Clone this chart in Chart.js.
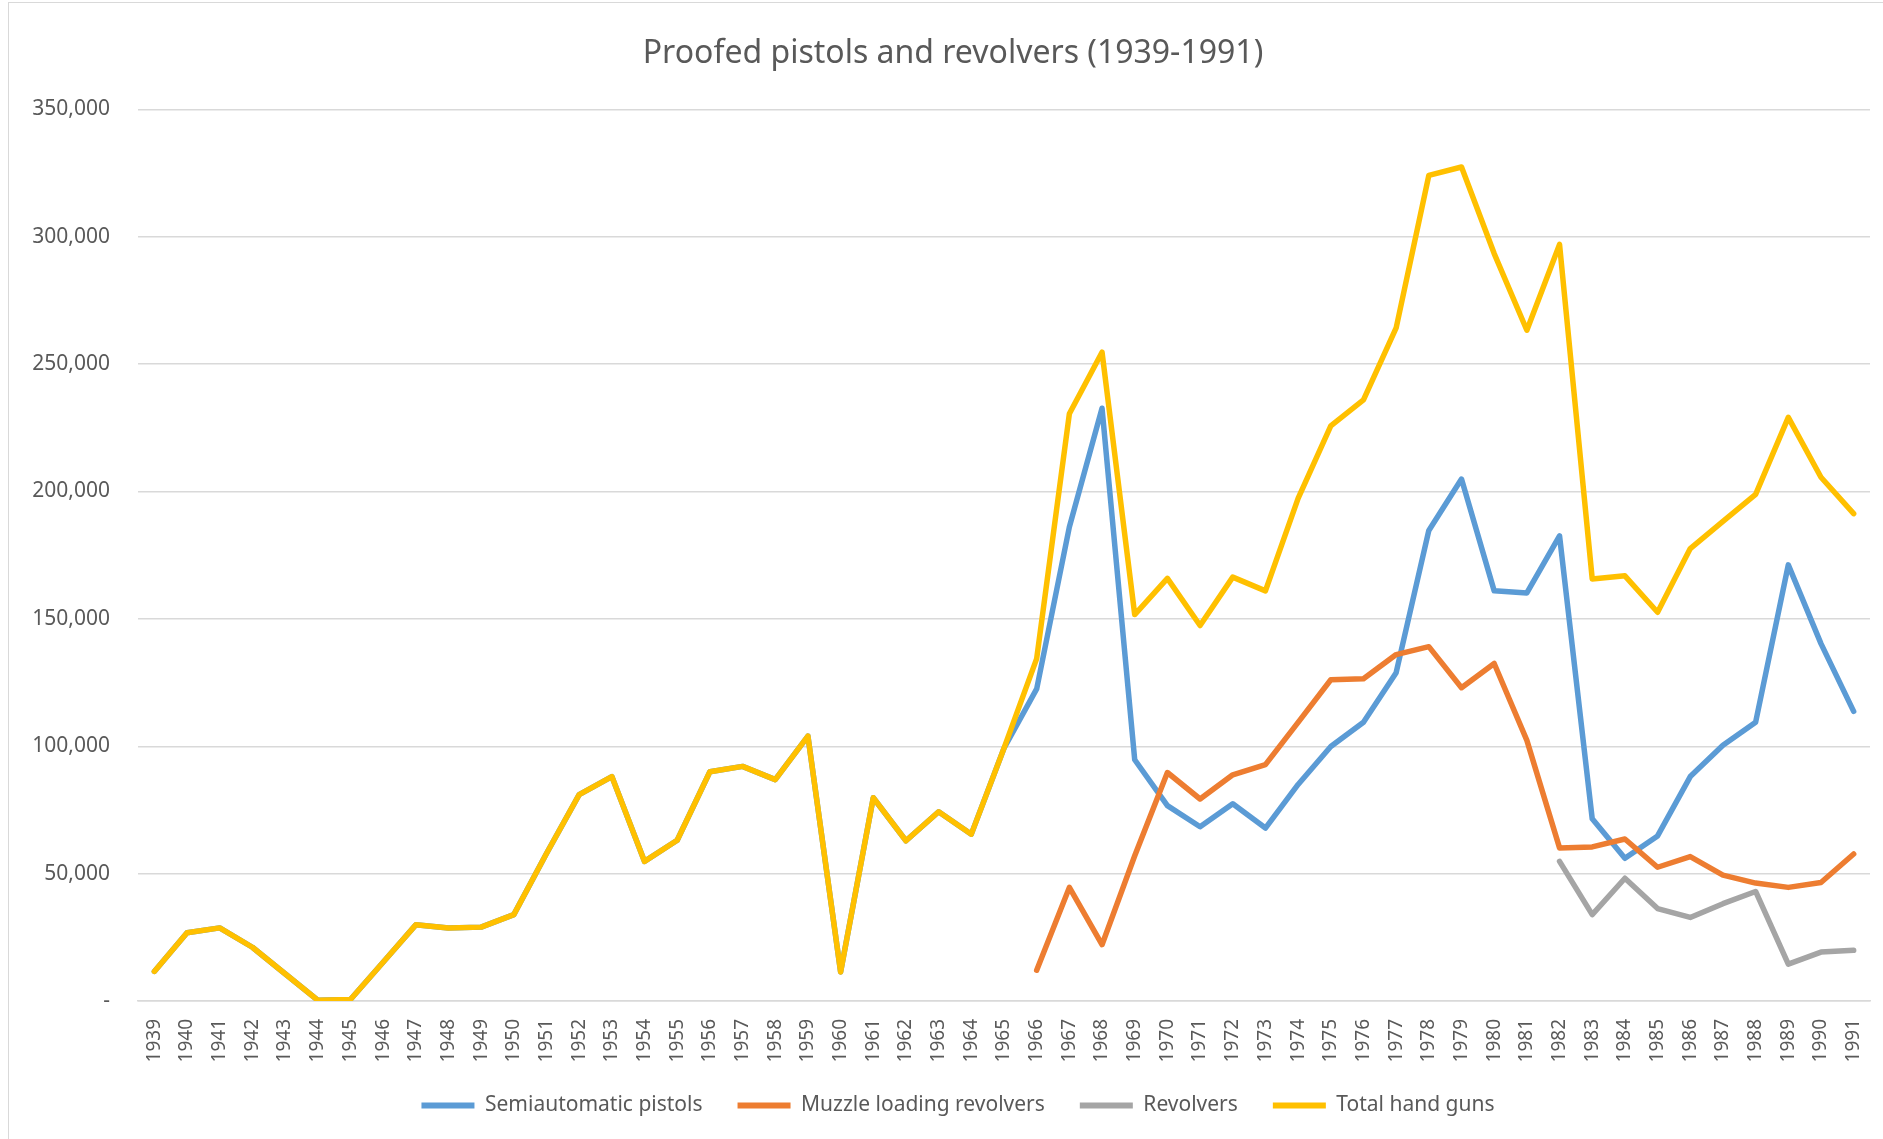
<!DOCTYPE html>
<html>
<head>
<meta charset="utf-8">
<title>Proofed pistols and revolvers (1939-1991)</title>
<script src="https://cdn.jsdelivr.net/npm/chart.js@4.4.1/dist/chart.umd.min.js"></script>
<style>
    html, body { margin: 0; padding: 0; background: #fff; overflow: hidden; }
    #wrap { position: relative; width: 1883px; height: 1139px; }
    #frame { position: absolute; left: 8px; top: 2px; right: -4px; bottom: -4px; border: 1px solid #d9d9d9; pointer-events: none; }
    canvas { position: absolute; left: 0; top: 0; }
</style>
</head>
<body>
<div id="wrap">
    <canvas id="lineChart" width="1883" height="1139"></canvas>
    <div id="frame"></div>
</div>
<script>
const years = [
    "1939", "1940", "1941", "1942", "1943", "1944", "1945", "1946", "1947", "1948",
    "1949", "1950", "1951", "1952", "1953", "1954", "1955", "1956", "1957", "1958",
    "1959", "1960", "1961", "1962", "1963", "1964", "1965", "1966", "1967", "1968",
    "1969", "1970", "1971", "1972", "1973", "1974", "1975", "1976", "1977", "1978",
    "1979", "1980", "1981", "1982", "1983", "1984", "1985", "1986", "1987", "1988",
    "1989", "1990", "1991"
];

// 1939-1965: every proofed hand gun was a semiautomatic pistol
const semiautomatic = [
    11600, 26800, 28700, 21100, 10700, 300, 600, 15200, 29900, 28700,
    29000, 33900, 57900, 81000, 88100, 54800, 63100, 90000, 92100, 86900,
    104000, 11400, 79800, 62900, 74300, 65500, 99200, 122500, 186100, 232700,
    94700, 76700, 68400, 77400, 67900, 85000, 99900, 109400, 128900, 184700,
    204900, 161000, 160200, 182600, 71500, 56000, 64800, 88100, 100400, 109400,
    171200, 140300, 113700
];

const muzzleLoading = [
    null, null, null, null, null, null, null, null, null, null,
    null, null, null, null, null, null, null, null, null, null,
    null, null, null, null, null, null, null, 12100, 44600, 22100,
    57000, 89700, 79300, 88800, 92800, 109400, 126100, 126500, 136000, 139100,
    123000, 132500, 102300, 60100, 60500, 63600, 52500, 56700, 49400, 46300,
    44600, 46500, 57700
];

const revolvers = [
    null, null, null, null, null, null, null, null, null, null,
    null, null, null, null, null, null, null, null, null, null,
    null, null, null, null, null, null, null, null, null, null,
    null, null, null, null, null, null, null, null, null, null,
    null, null, null, 54800, 33900, 48200, 36300, 32800, 38200, 43000,
    14500, 19200, 19900
];

const totalHandGuns = [
    11600, 26800, 28700, 21100, 10700, 300, 600, 15200, 29900, 28700,
    29000, 33900, 57900, 81000, 88100, 54800, 63100, 90000, 92100, 86900,
    104000, 11400, 79800, 62900, 74300, 65500, 99200, 134400, 230500, 254700,
    151700, 165900, 147400, 166400, 161000, 197300, 225800, 236000, 264200, 324100,
    327400, 293400, 263300, 297000, 165700, 166900, 152600, 177600, 188300, 198900,
    229100, 205600, 191300
];

const yTicks = [0, 50000, 100000, 150000, 200000, 250000, 300000, 350000];

const textColor = "#595959";
const gridColor = "#d9d9d9";
const fontFamily = "'Noto Sans', sans-serif";

function series(label, data, color, order) {
    return {
        label: label,
        data: data,
        borderColor: color,
        backgroundColor: color,
        borderWidth: 5.5,
        borderJoinStyle: "round",
        borderCapStyle: "round",
        pointRadius: 0,
        pointHoverRadius: 0,
        tension: 0,
        spanGaps: false,
        order: order
    };
}

// the legend and title sit a bit right of the canvas centre in the original
const nudgeBlocks = {
    id: "nudgeBlocks",
    afterLayout(chart) {
        const lg = chart.legend;
        const dx = 958 - (lg.left + lg.right) / 2;
        lg.left += dx;
        lg.right += dx;
        lg.top -= 4;
        lg.bottom -= 4;
        const tb = chart.titleBlock;
        tb.left += 4;
        tb.right += 4;
    }
};

const ctx = document.getElementById("lineChart").getContext("2d");

new Chart(ctx, {
    type: "line",
    data: {
        labels: years,
        datasets: [
            series("Semiautomatic pistols", semiautomatic, "#5b9bd5", 3),
            series("Muzzle loading revolvers", muzzleLoading, "#ed7d31", 2),
            series("Revolvers", revolvers, "#a5a5a5", 1),
            series("Total hand guns", totalHandGuns, "#ffc000", 0)
        ]
    },
    options: {
        responsive: false,
        animation: false,
        layout: {
            padding: { left: 28, right: 13, top: 0, bottom: 9 }
        },
        plugins: {
            title: {
                display: true,
                text: "Proofed pistols and revolvers (1939-1991)",
                color: textColor,
                font: { family: fontFamily, size: 32, weight: "normal" },
                padding: { top: 35, bottom: 36 }
            },
            legend: {
                position: "bottom",
                labels: {
                    color: textColor,
                    font: { family: fontFamily, size: 21 },
                    boxWidth: 53,
                    boxHeight: 6,
                    padding: 35,
                    sort: (a, b) => a.datasetIndex - b.datasetIndex,
                    generateLabels: chart =>
                        Chart.defaults.plugins.legend.labels.generateLabels(chart)
                            .map(item => ({ ...item, lineWidth: 0 }))
                }
            },
            tooltip: { enabled: false }
        },
        scales: {
            x: {
                offset: true,
                grid: { display: false, drawTicks: false },
                border: { display: true, color: gridColor, width: 1.5 },
                ticks: {
                    color: textColor,
                    font: { family: fontFamily, size: 19 },
                    minRotation: 90,
                    maxRotation: 90,
                    autoSkip: false,
                    padding: 18
                },
                afterFit: scale => {
                    scale.height = 63;
                    scale.paddingLeft = 0;
                    scale.paddingRight = 0;
                }
            },
            y: {
                min: 0,
                max: 350000,
                grid: { color: gridColor, lineWidth: 1.5, drawTicks: false },
                border: { display: false },
                afterBuildTicks: scale => {
                    scale.ticks = yTicks.map(v => ({ value: v }));
                },
                ticks: {
                    color: textColor,
                    font: { family: fontFamily, size: 21 },
                    padding: 28,
                    callback: value => value === 0 ? "-" : value.toLocaleString("en-US")
                },
                afterFit: scale => { scale.width = 110; }
            }
        }
    },
    plugins: [nudgeBlocks]
});
</script>
</body>
</html>
